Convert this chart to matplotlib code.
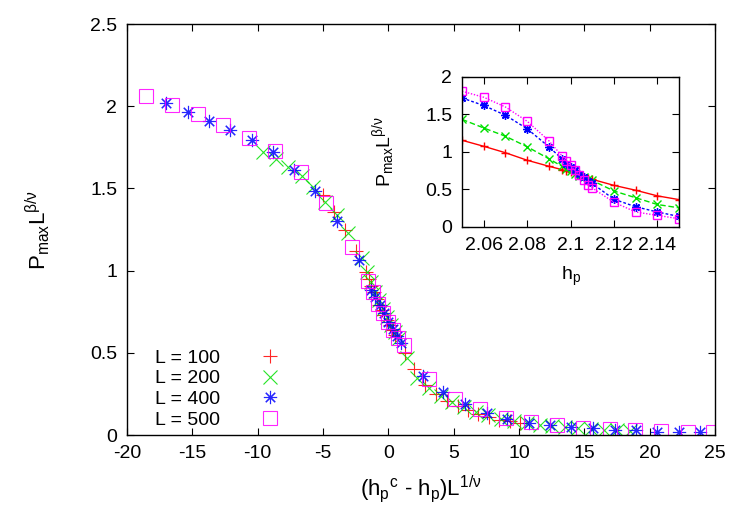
import matplotlib
matplotlib.use('Agg')
import matplotlib.pyplot as plt
from matplotlib.ticker import FuncFormatter

plt.rcParams['font.family'] = ['Liberation Sans', 'DejaVu Sans']
plt.rcParams['mathtext.fontset'] = 'custom'
plt.rcParams['mathtext.rm'] = 'Liberation Sans'
plt.rcParams['mathtext.it'] = 'Liberation Sans:italic'
plt.rcParams['axes.unicode_minus'] = False

# main panel: scaled data collapse
x100 = [-4.98, -4.15, -3.32, -2.5, -1.71, -1.5, -1.3, -1.1, -0.9, -0.7, -0.5, -0.3, -0.1, 0.1, 0.3, 0.5,
        1.27, 1.95, 2.8, 3.64, 4.46, 5.3, 6.1, 6.9, 7.7, 8.5, 9.3, 10.1]
y100 = [1.46, 1.36, 1.25, 1.12, 0.99, 0.95, 0.91, 0.87, 0.83, 0.79, 0.76, 0.73, 0.70, 0.67, 0.64, 0.61,
        0.50, 0.40, 0.305, 0.25, 0.21, 0.18, 0.155, 0.13, 0.11, 0.095, 0.085, 0.075]

x200 = [-9.6, -8.6, -7.66, -6.63, -5.74, -4.85, -3.96, -3.07, -2.04, -1.6, -1.3, -1.0, -0.7, -0.4, -0.1, 0.2,
        0.5, 0.8, 1.42, 2.21, 3.15, 4.0, 4.9, 5.8, 6.7, 7.6, 8.6, 9.6, 10.6, 11.6, 12.5, 13.5, 14.5, 15.5,
        16.5, 17.5, 18.5]
y200 = [1.72, 1.68, 1.632, 1.575, 1.51, 1.42, 1.338, 1.227, 1.075, 0.99, 0.93, 0.87, 0.82, 0.77, 0.72, 0.67,
        0.63, 0.59, 0.47, 0.35, 0.285, 0.235, 0.2, 0.17, 0.14, 0.12, 0.10, 0.085, 0.072, 0.062, 0.054, 0.047,
        0.042, 0.037, 0.033, 0.03, 0.028]

x400 = [-17.02, -15.36, -13.73, -12.12, -10.46, -8.80, -7.20, -5.62, -3.91, -2.25, -1.31, -0.98, -0.65, -0.33,
        0.0, 0.33, 0.66, 0.98, 2.62, 4.2, 5.86, 7.52, 9.10, 10.76, 12.36, 14.02, 15.68, 17.34, 18.95, 20.57,
        22.24, 23.89]
y400 = [2.018, 1.963, 1.912, 1.855, 1.794, 1.723, 1.612, 1.486, 1.304, 1.065, 0.882, 0.84, 0.79, 0.745,
        0.69, 0.645, 0.60, 0.56, 0.36, 0.26, 0.19, 0.134, 0.10, 0.076, 0.059, 0.047, 0.041, 0.034, 0.03, 0.022,
        0.018, 0.017]

x500 = [-18.57, -16.58, -14.59, -12.63, -10.67, -8.70, -6.71, -4.75, -2.79, -1.56, -1.17, -0.78, -0.39, 0.0,
        0.39, 0.78, 1.2, 3.13, 5.09, 7.05, 9.0, 10.95, 12.9, 14.9, 16.95, 18.92, 20.91, 22.92, 24.84]
y500 = [2.064, 2.007, 1.953, 1.886, 1.808, 1.729, 1.598, 1.41, 1.145, 0.937, 0.872, 0.80, 0.74, 0.69,
        0.64, 0.59, 0.547, 0.342, 0.218, 0.156, 0.105, 0.08, 0.062, 0.046, 0.038, 0.032, 0.026, 0.022, 0.022]

# inset: raw curves vs h_p
h_in = [2.05, 2.06, 2.07, 2.08, 2.09, 2.096, 2.098, 2.1, 2.102, 2.104, 2.106, 2.108, 2.11, 2.12, 2.13, 2.14, 2.15]
p100 = [1.156, 1.076, 0.99, 0.89, 0.81, 0.765, 0.75, 0.73, 0.71, 0.69, 0.67, 0.655, 0.635, 0.555, 0.49, 0.415, 0.365]
p200 = [1.435, 1.32, 1.21, 1.07, 0.91, 0.81, 0.77, 0.74, 0.71, 0.68, 0.66, 0.64, 0.62, 0.48, 0.39, 0.30, 0.255]
p400 = [1.72, 1.62, 1.49, 1.31, 1.07, 0.91, 0.84, 0.80, 0.755, 0.70, 0.66, 0.61, 0.58, 0.37, 0.27, 0.20, 0.14]
p500 = [1.81, 1.73, 1.60, 1.41, 1.15, 0.95, 0.875, 0.82, 0.755, 0.69, 0.63, 0.56, 0.52, 0.33, 0.20, 0.155, 0.11]

labels = ['L = 100', 'L = 200', 'L = 400', 'L = 500']
colors = ['#ff0000', '#00e000', '#0000ff', '#ff00ff']
markers = ['+', 'x', (8, 2, 0), 's']

fs = 14


def style_axes(ax):
    ax.tick_params(direction='in', top=True, right=True, length=5, width=0.8,
                   labelsize=fs, pad=7)
    for s in ax.spines.values():
        s.set_linewidth(1.0)


fig = plt.figure(figsize=(7.47, 5.23), dpi=100)
ax = fig.add_axes([0.170, 0.168, 0.787, 0.786])

main_data = [(x100, y100), (x200, y200), (x400, y400), (x500, y500)]
for (xs, ys), lab, c, m in zip(main_data, labels, colors, markers):
    ax.plot(xs, ys, linestyle='none', marker=m, markersize=9.5, markeredgewidth=0.8,
            color=c, markerfacecolor='none', label=lab, alpha=0.85)

ax.set_xlim(-20, 25)
ax.set_ylim(0, 2.5)
ax.set_xticks(range(-20, 26, 5))
ax.set_yticks([0, 0.5, 1, 1.5, 2, 2.5])
ax.yaxis.set_major_formatter(FuncFormatter(lambda v, p: '%g' % v))
style_axes(ax)
ax.set_xlabel(r'$\mathregular{(h_p{}^c}$ - $\mathregular{h_p)L^{1/\nu}}$', fontsize=16)
ax.xaxis.set_label_coords(0.5, -0.095)
ax.set_ylabel(r'$\mathregular{P_{max}L^{\beta/\nu}}$', fontsize=16)
ax.yaxis.set_label_coords(-0.128, 0.5)

ax.legend(loc='lower left', bbox_to_anchor=(0.025, -0.017), frameon=False, markerfirst=False,
          fontsize=fs, handlelength=2.0, handletextpad=1.55, labelspacing=0.15, borderaxespad=0.3)

# inset
ins = fig.add_axes([0.6185, 0.566, 0.2905, 0.2868])
in_data = [p100, p200, p400, p500]
lstyles = ['-', (0, (4, 2)), (0, (2, 1.5)), (0, (1, 1.2))]
for ys, c, m, ls in zip(in_data, colors, markers, lstyles):
    ins.plot(h_in, ys, linestyle=ls, linewidth=1.0, marker=m, markersize=6, markeredgewidth=1.0,
             color=c, markerfacecolor='none')
ins.set_xlim(2.05, 2.15)
ins.set_ylim(0, 2)
ins.set_xticks([2.06, 2.08, 2.1, 2.12, 2.14])
ins.set_yticks([0, 0.5, 1, 1.5, 2])
ins.xaxis.set_major_formatter(FuncFormatter(lambda v, p: '%g' % round(v, 3)))
ins.yaxis.set_major_formatter(FuncFormatter(lambda v, p: '%g' % v))
style_axes(ins)
ins.set_xlabel(r'$\mathregular{h_p}$', fontsize=fs)
ins.xaxis.set_label_coords(0.5, -0.25)
ins.set_ylabel(r'$\mathregular{P_{max}L^{\beta/\nu}}$', fontsize=fs)
ins.yaxis.set_label_coords(-0.3, 0.5)

fig.savefig('out.png', dpi=100)
